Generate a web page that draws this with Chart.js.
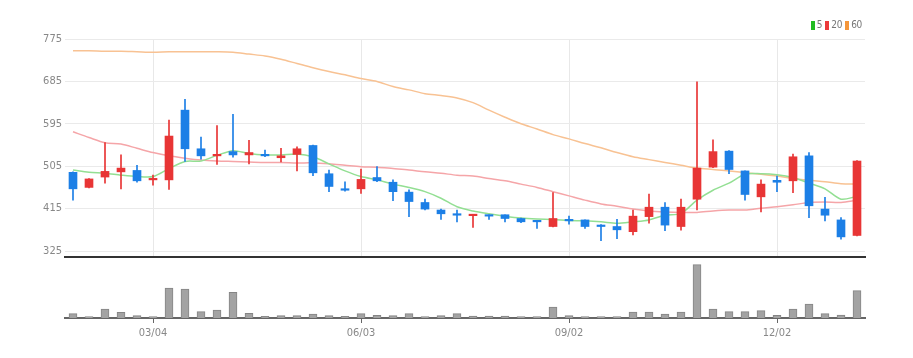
<!DOCTYPE html>
<html>
<head>
<meta charset="utf-8">
<script src="https://cdn.jsdelivr.net/npm/chart.js@4.4.1/dist/chart.umd.min.js"></script>
<style>
  html, body { margin: 0; padding: 0; background: #fff; }
  #wrap { position: relative; width: 913px; height: 358px; overflow: hidden; }
  #main { position: absolute; left: 0; top: 0; }
  #vol { position: absolute; left: 0; top: 262px; }
  #legend { position: absolute; right: 51px; top: 19px; display: flex; align-items: center;
    font: 10px 'Liberation Sans Narrow','DejaVu Sans Condensed','Liberation Sans',sans-serif; color: #777; line-height: 12px; letter-spacing: -0.3px; }
  #legend .sq { display: inline-block; width: 4px; height: 9px; margin-right: 2px; }
  #legend .it { display: flex; align-items: center; margin-left: 3px; }
</style>
</head>
<body>
<div id="wrap">
  <canvas id="main" width="913" height="262"></canvas>
  <canvas id="vol" width="913" height="96"></canvas>
  <div id="legend">
    <span class="it"><span class="sq" style="background:#22bb22"></span>5</span>
    <span class="it"><span class="sq" style="background:#ec3a3a"></span>20</span>
    <span class="it"><span class="sq" style="background:#f5963a"></span>60</span>
  </div>
</div>
<script>
const dates = ['01/29','02/05','02/12','02/19','02/26','03/04','03/11','03/18','03/25','04/01',
  '04/08','04/15','04/22','04/29','05/06','05/13','05/20','05/27','06/03','06/10',
  '06/17','06/24','07/01','07/08','07/15','07/22','07/29','08/05','08/12','08/19',
  '08/26','09/02','09/09','09/16','09/23','09/30','10/07','10/14','10/21','10/28',
  '11/04','11/11','11/18','11/25','12/02','12/09','12/16','12/23','12/30','01/06'];
const shownTicks = ['03/04','06/03','09/02','12/02'];
const priceTicks = [325, 415, 505, 595, 685, 775];

const openP  = [492,460,482,493,496,476,476,624,542,527, 536,529,530,523,530,549,489,457,457,481,
                471,450,428,412,404,400,402,402,394,390, 377,392,391,380,377,366,398,418,377,435,
                503,537,495,440,475,474,527,414,391,358];
const highP  = [493,479,555,529,507,486,603,647,567,591, 615,560,539,543,546,550,497,472,499,504,
                476,455,435,414,412,402,402,402,395,390, 449,399,391,381,392,412,446,428,435,684,
                561,538,495,476,484,531,534,439,396,517];
const lowP   = [433,459,469,457,471,465,456,515,520,509, 524,510,525,514,495,485,451,452,447,472,
                432,398,412,392,387,375,392,387,385,373, 376,382,373,347,351,359,384,368,369,412,
                502,489,433,408,451,449,396,389,350,357];
const closeP = [457,478,494,501,474,479,569,542,527,530, 529,534,527,527,542,491,462,454,477,474,
                451,430,414,404,401,402,399,394,387,387, 394,389,377,377,370,399,418,380,418,501,
                536,498,445,467,471,525,421,401,355,516];

const ma5  = [497,492,490,486,483,483,500,515,516,528, 538,532,529,529,531,525,510,495,483,476,
              467,460,451,437,419,410,404,399,395,393, 392,390,389,387,384,387,391,401,405,433,
              454,469,488,489,487,481,469,457,435,441];
const ma20 = [578,566,555,552,543,534,527,522,518,516, 515,514,513,513,512,512,510,507,504,503,
              500,497,493,490,486,484,479,474,467,460, 451,442,433,425,420,414,410,408,407,407,
              410,412,412,416,419,423,428,429,428,433];
const ma60 = [750,750,749,749,748,747,748,748,748,748, 747,743,739,732,723,714,706,699,691,685,
              674,667,659,655,650,640,624,609,595,584, 572,563,553,544,534,525,519,513,507,501,
              498,495,491,488,484,479,475,472,468,467];

const volume = [43000,7000,90000,57000,23000,7000,300000,290000,63000,80000,
                257000,47000,17000,23000,23000,40000,23000,17000,43000,27000,
                23000,43000,7000,23000,43000,20000,20000,20000,10000,10000,
                110000,23000,10000,7000,7000,60000,60000,40000,60000,533000,
                90000,63000,63000,73000,27000,90000,140000,43000,30000,273000];

const UP = '#e83535', DOWN = '#1c7fe6';
const candleColor = openP.map((o, i) => closeP[i] >= o ? UP : DOWN);
const FONT = "'Liberation Sans Narrow','DejaVu Sans Condensed','Liberation Sans',sans-serif";

new Chart(document.getElementById('main'), {
  type: 'bar',
  data: {
    labels: dates,
    datasets: [
      { type: 'line', label: '60', data: ma60, borderColor: '#f8c293', borderWidth: 1.5, pointRadius: 0, tension: 0.3, order: 5 },
      { type: 'line', label: '20', data: ma20, borderColor: '#f5a5a8', borderWidth: 1.5, pointRadius: 0, tension: 0.3, order: 4 },
      { type: 'line', label: '5', data: ma5, borderColor: '#93df93', borderWidth: 1.5, pointRadius: 0, tension: 0.3, order: 3 },
      { label: 'wick', data: lowP.map((l, i) => [l, highP[i]]), backgroundColor: candleColor,
        barThickness: 1, grouped: false, order: 2 },
      { label: 'body', data: openP.map((o, i) => [o, closeP[i]]), backgroundColor: candleColor,
        barThickness: 8, grouped: false, minBarLength: 1.5, order: 1 }
    ]
  },
  options: {
    responsive: false, animation: false, devicePixelRatio: 1,
    layout: { padding: { top: 39, right: 48, bottom: 5, left: 0 } },
    plugins: { legend: { display: false }, tooltip: { enabled: false } },
    scales: {
      x: {
        offset: true,
        ticks: { display: false, autoSkip: false },
        grid: { offset: false, drawTicks: false,
          color: c => shownTicks.includes(dates[c.index]) ? '#e8e8e8' : 'rgba(0,0,0,0)' },
        border: { display: true, color: '#333', width: 2 },
        afterFit: s => { s.height = 0; s.paddingLeft = 0; s.paddingRight = 0; }
      },
      y: {
        min: 312.3, max: 775,
        afterBuildTicks: s => { s.ticks = priceTicks.map(v => ({ value: v })); },
        ticks: { color: '#888', font: { family: FONT, size: 11 }, padding: 3 },
        grid: { color: '#eaeaea', drawTicks: false },
        border: { display: false },
        afterFit: s => { s.width = 65; s.paddingTop = 0; s.paddingBottom = 0; }
      }
    }
  }
});

new Chart(document.getElementById('vol'), {
  type: 'bar',
  data: {
    labels: dates,
    datasets: [
      { label: 'vol', data: volume, backgroundColor: '#a3a3a3', borderColor: '#858585', borderWidth: 1,
        barThickness: 8, minBarLength: 1.5 }
    ]
  },
  options: {
    responsive: false, animation: false, devicePixelRatio: 1,
    layout: { padding: { top: 2, right: 48, bottom: 0, left: 65 } },
    plugins: { legend: { display: false }, tooltip: { enabled: false } },
    scales: {
      x: {
        offset: true,
        ticks: { autoSkip: false, maxRotation: 0, color: '#888', padding: 4,
          font: { family: FONT, size: 11 },
          callback: (v, i) => shownTicks.includes(dates[i]) ? dates[i] : '' },
        grid: { offset: false, drawOnChartArea: false, drawTicks: true, tickLength: 5,
          color: c => shownTicks.includes(dates[c.index]) ? '#666' : 'rgba(0,0,0,0)' },
        border: { display: true, color: '#666', width: 2 },
        afterFit: s => { s.height = 40; }
      },
      y: { display: false, min: 0, max: 540000 }
    }
  }
});
</script>
</body>
</html>
